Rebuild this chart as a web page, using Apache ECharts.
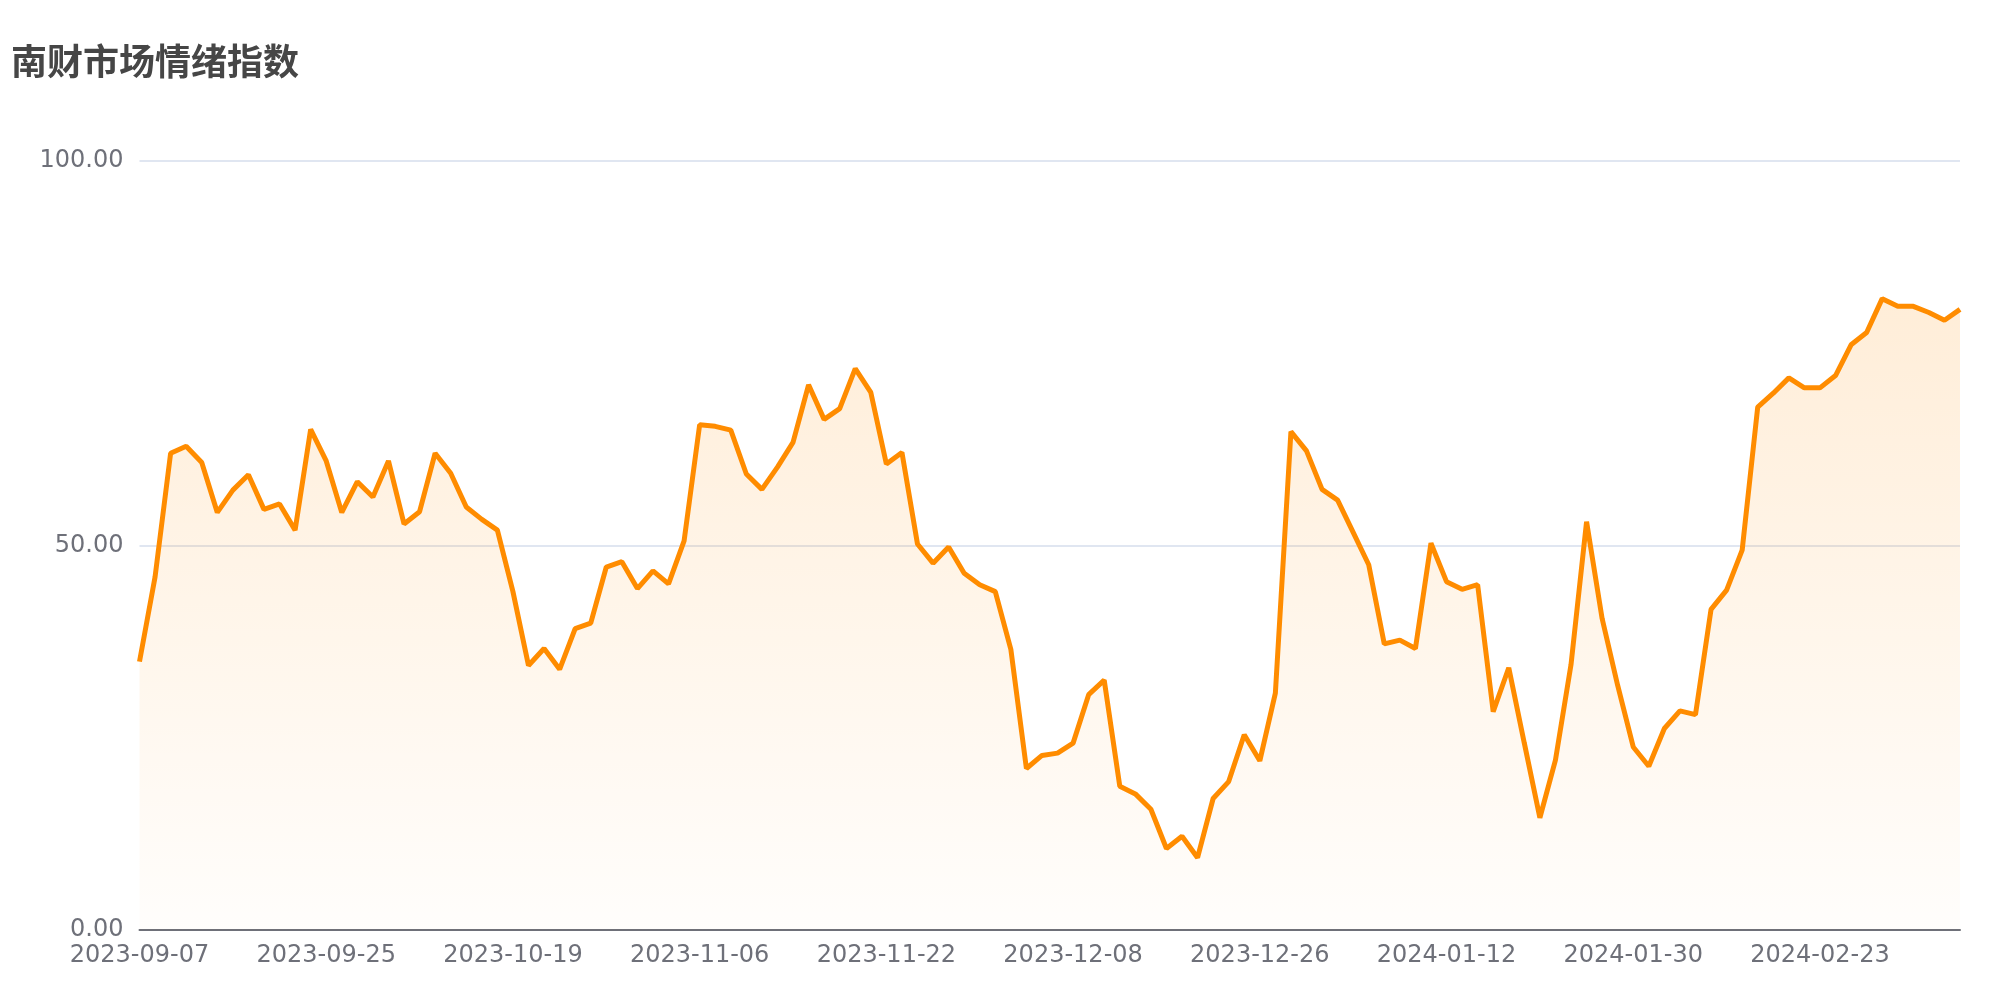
<!DOCTYPE html>
<html>
<head>
<meta charset="utf-8">
<script src="https://cdn.jsdelivr.net/npm/echarts@6/dist/echarts.min.js"></script>
<style>html,body{margin:0;padding:0;background:#fff;}#c{width:2000px;height:1000px;}</style>
</head>
<body>
<div id="c"></div>
<script>
const titleText = '南财市场情绪指数';
const dates = [
'2023-09-07','2023-09-08','2023-09-11','2023-09-12','2023-09-13','2023-09-14','2023-09-15','2023-09-18','2023-09-19','2023-09-20',
'2023-09-21','2023-09-22','2023-09-25','2023-09-26','2023-09-27','2023-09-28','2023-10-09','2023-10-10','2023-10-11','2023-10-12',
'2023-10-13','2023-10-16','2023-10-17','2023-10-18','2023-10-19','2023-10-20','2023-10-23','2023-10-24','2023-10-25','2023-10-26',
'2023-10-27','2023-10-30','2023-10-31','2023-11-01','2023-11-02','2023-11-03','2023-11-06','2023-11-07','2023-11-08','2023-11-09',
'2023-11-10','2023-11-13','2023-11-14','2023-11-15','2023-11-16','2023-11-17','2023-11-20','2023-11-21','2023-11-22','2023-11-23',
'2023-11-24','2023-11-27','2023-11-28','2023-11-29','2023-11-30','2023-12-01','2023-12-04','2023-12-05','2023-12-06','2023-12-07',
'2023-12-08','2023-12-11','2023-12-12','2023-12-13','2023-12-14','2023-12-15','2023-12-18','2023-12-19','2023-12-20','2023-12-21',
'2023-12-22','2023-12-25','2023-12-26','2023-12-27','2023-12-28','2023-12-29','2024-01-02','2024-01-03','2024-01-04','2024-01-05',
'2024-01-08','2024-01-09','2024-01-10','2024-01-11','2024-01-12','2024-01-15','2024-01-16','2024-01-17','2024-01-18','2024-01-19',
'2024-01-22','2024-01-23','2024-01-24','2024-01-25','2024-01-26','2024-01-29','2024-01-30','2024-01-31','2024-02-01','2024-02-02',
'2024-02-05','2024-02-06','2024-02-07','2024-02-08','2024-02-19','2024-02-20','2024-02-21','2024-02-22','2024-02-23','2024-02-26',
'2024-02-27','2024-02-28','2024-02-29','2024-03-01','2024-03-04','2024-03-05','2024-03-06','2024-03-07'
];
const sentiment = [
34.9,45.9,62.0,62.9,60.8,54.3,57.2,59.2,54.7,55.4,
52.0,65.1,61.0,54.3,58.3,56.3,61.0,52.8,54.4,62.0,
59.4,55.0,53.4,52.0,44.0,34.4,36.6,33.9,39.2,39.9,
47.2,47.9,44.4,46.7,45.0,50.6,65.7,65.5,65.0,59.3,
57.3,60.2,63.4,70.9,66.4,67.8,73.0,69.9,60.6,62.1,
50.2,47.7,49.8,46.4,44.9,44.0,36.5,21.0,22.7,23.0,
24.3,30.6,32.5,18.7,17.7,15.7,10.6,12.2,9.4,17.1,
19.3,25.4,22.0,30.8,64.8,62.3,57.3,55.9,51.7,47.5,
37.2,37.7,36.6,50.3,45.3,44.3,44.9,28.4,34.1,24.3,
14.6,22.1,34.5,53.1,40.5,31.8,23.8,21.3,26.2,28.5,
28.0,41.7,44.2,49.4,68.0,69.8,71.8,70.5,70.5,72.1,
76.1,77.7,82.1,81.1,81.1,80.3,79.3,80.7
];
const yMin = 0, yMax = 100, yStep = 50;

const chart = echarts.init(document.getElementById('c'), null, {renderer: 'canvas'});
chart.setOption({
  animation: false,
  backgroundColor: '#ffffff',
  title: {
    text: titleText,
    left: 6,
    top: 38,
    textStyle: {fontSize: 36, fontWeight: 'bold', color: '#464646', fontFamily: 'Noto Sans CJK SC'}
  },
  grid: {left: 139.5, right: 40, top: 161, bottom: 70, containLabel: false},
  xAxis: {
    type: 'category',
    data: dates,
    boundaryGap: false,
    axisLine: {lineStyle: {color: '#6E7079', width: 2}},
    axisTick: {show: false},
    axisLabel: {interval: 11, color: '#6E7079', fontSize: 24, margin: 14, fontFamily: 'DejaVu Sans'}
  },
  yAxis: {
    type: 'value',
    min: yMin, max: yMax, interval: yStep,
    axisLine: {show: false},
    axisTick: {show: false},
    axisLabel: {color: '#6E7079', fontSize: 24, margin: 16, fontFamily: 'DejaVu Sans',
      formatter: v => v.toFixed(2)},
    splitLine: {lineStyle: {color: '#E0E6F1', width: 2}}
  },
  series: [{
    type: 'line',
    data: sentiment,
    showSymbol: false,
    symbol: 'none',
    lineStyle: {color: '#FF8C00', width: 5},
    itemStyle: {color: '#FF8C00'},
    areaStyle: {
      color: new echarts.graphic.LinearGradient(0, 0, 0, 1, [
        {offset: 0, color: 'rgba(255,140,0,0.22)'},
        {offset: 1, color: 'rgba(255,140,0,0.02)'}
      ])
    }
  }]
});
</script>
</body>
</html>
